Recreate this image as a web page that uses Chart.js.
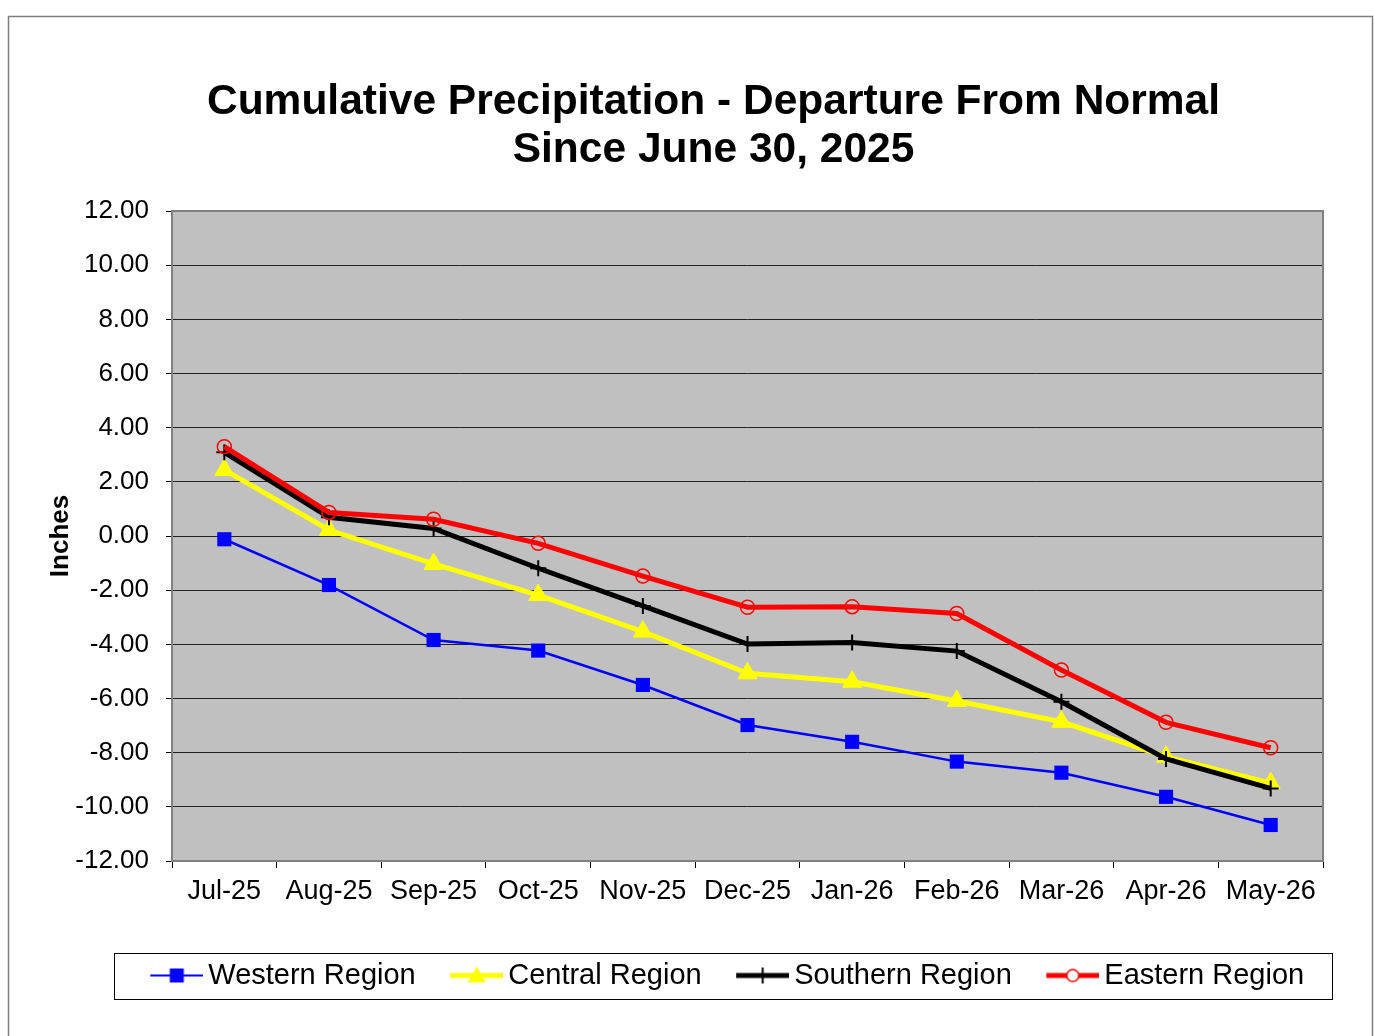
<!DOCTYPE html>
<html>
<head>
<meta charset="utf-8">
<title>Cumulative Precipitation - Departure From Normal</title>
<script src="https://cdn.jsdelivr.net/npm/chart.js@4.4.1/dist/chart.umd.min.js"></script>
<style>
  html, body { margin: 0; padding: 0; background: #fff; overflow: hidden; }
  #wrap { position: absolute; left: 0; top: 0; width: 1374px; height: 1036px; }
</style>
</head>
<body>
<div id="wrap"><canvas id="myChart" width="1374" height="1036"></canvas></div>
<script>
const months = ['Jul-25', 'Aug-25', 'Sep-25', 'Oct-25', 'Nov-25', 'Dec-25', 'Jan-26', 'Feb-26', 'Mar-26', 'Apr-26', 'May-26'];

const western = [-0.12, -1.81, -3.84, -4.23, -5.50, -6.98, -7.60, -8.33, -8.74, -9.63, -10.67];
const central = [2.44, 0.22, -1.03, -2.18, -3.53, -5.07, -5.38, -6.09, -6.86, -8.15, -9.13];
const southern = [3.09, 0.69, 0.28, -1.19, -2.58, -3.99, -3.93, -4.25, -6.12, -8.23, -9.32];
const eastern = [3.30, 0.87, 0.62, -0.27, -1.48, -2.63, -2.61, -2.86, -4.95, -6.88, -7.82];

const yMin = -12;
const yMax = 12;
const yStep = 2;

const fontFamily = '"Liberation Sans", Arial, sans-serif';

// little line + marker pictures for the legend
// (transparent margin on the left so the items sit like the original)
function legendIcon(color, lineWidth, drawMarker) {
    const c = document.createElement('canvas');
    c.width = 90;
    c.height = 24;
    const g = c.getContext('2d');
    g.strokeStyle = color;
    g.lineWidth = lineWidth;
    g.beginPath();
    g.moveTo(37, 12);
    g.lineTo(90, 12);
    g.stroke();
    drawMarker(g, 63.5, 12);
    return c;
}

const iconWestern = legendIcon('#0000ff', 2, (g, x, y) => {
    g.fillStyle = '#0000ff';
    g.fillRect(x - 7, y - 7, 14, 14);
});
const iconCentral = legendIcon('#ffff00', 5, (g, x, y) => {
    g.fillStyle = '#ffff00';
    g.beginPath();
    g.moveTo(x, y - 9);
    g.lineTo(x + 9, y + 7);
    g.lineTo(x - 9, y + 7);
    g.closePath();
    g.fill();
});
const iconSouthern = legendIcon('#000000', 5, (g, x, y) => {
    g.strokeStyle = '#000';
    g.lineWidth = 2;
    g.beginPath();
    g.moveTo(x, y - 8);
    g.lineTo(x, y + 8);
    g.stroke();
});
const iconEastern = legendIcon('#ff0000', 5, (g, x, y) => {
    g.strokeStyle = '#ff0000';
    g.lineWidth = 1.5;
    g.fillStyle = '#fff';
    g.beginPath();
    g.arc(x, y, 6, 0, Math.PI * 2);
    g.fill();
    g.stroke();
});

const legendIcons = [iconWestern, iconCentral, iconSouthern, iconEastern];

const chartBackground = {
    id: 'chartBackground',
    beforeDraw(chart) {
        const ctx = chart.ctx;
        const a = chart.chartArea;
        ctx.save();
        ctx.fillStyle = '#fff';
        ctx.fillRect(0, 0, chart.width, chart.height);
        ctx.strokeStyle = '#7f7f7f';
        ctx.lineWidth = 1.5;
        ctx.strokeRect(8.5, 16.5, 1364, 1040);
        ctx.fillStyle = '#c0c0c0';
        ctx.fillRect(a.left, a.top, a.right - a.left, a.bottom - a.top);
        ctx.restore();
    },
    afterDraw(chart) {
        const ctx = chart.ctx;
        const a = chart.chartArea;
        ctx.save();
        ctx.strokeStyle = '#808080';
        ctx.lineWidth = 2;
        ctx.strokeRect(a.left, a.top, a.right - a.left, a.bottom - a.top);

        // box round the legend
        const hb = chart.legend.legendHitBoxes;
        if (hb && hb.length) {
            const first = hb[0];
            const last = hb[hb.length - 1];
            const left = first.left - 8.5;
            const right = last.left + last.width + 28;
            ctx.strokeStyle = '#000';
            ctx.lineWidth = 1;
            ctx.strokeRect(Math.round(left) + 0.5, chart.legend.top - 0.5, Math.round(right - left), 46);
        }
        ctx.restore();
    }
};

const ctx = document.getElementById('myChart').getContext('2d');

const myChart = new Chart(ctx, {
    type: 'line',
    data: {
        labels: months,
        datasets: [
            {
                label: 'Western Region',
                data: western,
                borderColor: '#0000ff',
                backgroundColor: '#0000ff',
                borderWidth: 2.5,
                pointStyle: 'rect',
                pointRadius: 10,
                pointBorderWidth: 0,
                pointHoverRadius: 10,
                order: 3
            },
            {
                label: 'Central Region',
                data: central,
                borderColor: '#ffff00',
                backgroundColor: '#ffff00',
                borderWidth: 5,
                pointStyle: 'triangle',
                pointRadius: 11,
                pointBorderWidth: 1,
                pointHoverRadius: 11,
                order: 2
            },
            {
                label: 'Southern Region',
                data: southern,
                borderColor: '#000000',
                backgroundColor: '#000000',
                borderWidth: 5,
                pointStyle: 'cross',
                pointRadius: 8,
                pointBorderWidth: 2,
                pointHoverRadius: 8,
                order: 1
            },
            {
                label: 'Eastern Region',
                data: eastern,
                borderColor: '#ff0000',
                backgroundColor: 'rgba(0,0,0,0)',
                borderWidth: 5,
                pointStyle: 'circle',
                pointRadius: 7,
                pointBorderWidth: 1.5,
                pointHoverRadius: 7,
                order: 0
            }
        ]
    },
    options: {
        responsive: false,
        animation: false,
        events: [],
        layout: {
            // title and legend are centred a bit right of the canvas middle
            padding: { left: 40, right: -13, top: 0, bottom: 36 }
        },
        elements: {
            line: { tension: 0 }
        },
        plugins: {
            title: {
                display: true,
                text: ['Cumulative Precipitation - Departure From Normal', 'Since June 30, 2025'],
                color: '#000',
                font: { family: fontFamily, size: 42.5, weight: 'bold', lineHeight: '48px' },
                padding: { top: 78, bottom: 37 }
            },
            legend: {
                display: true,
                position: 'bottom',
                labels: {
                    color: '#000',
                    font: { family: fontFamily, size: 29 },
                    usePointStyle: true,
                    pointStyleWidth: 71,
                    padding: 7,
                    generateLabels(chart) {
                        return chart.data.datasets.map((ds, i) => ({
                            text: ds.label,
                            fillStyle: ds.backgroundColor,
                            strokeStyle: ds.borderColor,
                            lineWidth: 0,
                            pointStyle: legendIcons[i],
                            hidden: false,
                            datasetIndex: i,
                            fontColor: '#000'
                        }));
                    }
                }
            },
            tooltip: { enabled: false }
        },
        scales: {
            x: {
                offset: true,
                afterFit(scale) { scale.height = 93; },
                border: { display: false },
                grid: {
                    offset: true,
                    drawOnChartArea: false,
                    drawTicks: true,
                    tickLength: 7,
                    tickColor: '#000',
                    tickWidth: 1
                },
                ticks: {
                    color: '#000',
                    font: { family: fontFamily, size: 27 },
                    padding: 7,
                    maxRotation: 0,
                    autoSkip: false
                }
            },
            y: {
                min: yMin,
                max: yMax,
                afterFit(scale) { scale.width = 132; },
                border: { display: false },
                grid: {
                    color: '#222',
                    lineWidth: 1,
                    drawTicks: true,
                    tickLength: 6,
                    tickColor: '#000'
                },
                ticks: {
                    stepSize: yStep,
                    color: '#000',
                    font: { family: fontFamily, size: 26 },
                    padding: 17,
                    callback: value => Number(value).toFixed(2)
                },
                title: {
                    display: true,
                    text: 'Inches',
                    color: '#000',
                    font: { family: fontFamily, size: 26, weight: 'bold' },
                    padding: { top: 5.4, bottom: 0 }
                }
            },
            // empty space on the right of the plot
            yRight: {
                position: 'right',
                min: yMin,
                max: yMax,
                afterFit(scale) { scale.width = 64; },
                border: { display: false },
                grid: { display: false },
                ticks: { display: false }
            }
        }
    },
    plugins: [chartBackground]
});
</script>
</body>
</html>
